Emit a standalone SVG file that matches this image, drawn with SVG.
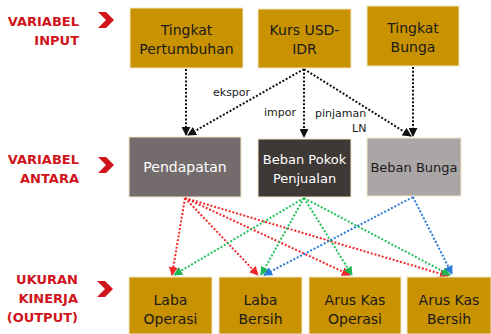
<svg xmlns="http://www.w3.org/2000/svg" width="491" height="334" viewBox="0 0 491 334">
<defs>
<style>
.lbl{font-family:"DejaVu Sans",sans-serif;font-weight:bold;font-size:13px;fill:#D0141C;text-anchor:end}
.box{stroke:#F2E6C8;stroke-width:1}
.gold{fill:#C99200}
.t{font-family:"DejaVu Sans",sans-serif;font-size:14px;text-anchor:middle;fill:#1a1a1a}
.tw{font-family:"DejaVu Sans",sans-serif;font-size:14px;text-anchor:middle;fill:#ffffff}
.el{font-family:"DejaVu Sans",sans-serif;font-size:11px;fill:#1a1a1a}
.c{fill:none;stroke-width:2;stroke-dasharray:2 1.8}
.k{stroke:#111}
.r{stroke:#F2262A}
.g{stroke:#22C05A}
.b{stroke:#2A7BD6}
.chev{fill:#D0141C}
</style>
<marker id="ak" viewBox="0 0 10 10" refX="9" refY="5" markerWidth="4.5" markerHeight="4.5" orient="auto" markerUnits="strokeWidth"><path d="M0,0L10,5L0,10z" fill="#111"/></marker>
<marker id="ar" viewBox="0 0 10 10" refX="9" refY="5" markerWidth="4.5" markerHeight="4.5" orient="auto" markerUnits="strokeWidth"><path d="M0,0L10,5L0,10z" fill="#F2262A"/></marker>
<marker id="ag" viewBox="0 0 10 10" refX="9" refY="5" markerWidth="4.5" markerHeight="4.5" orient="auto" markerUnits="strokeWidth"><path d="M0,0L10,5L0,10z" fill="#1FB552"/></marker>
<marker id="ab" viewBox="0 0 10 10" refX="9" refY="5" markerWidth="4.5" markerHeight="4.5" orient="auto" markerUnits="strokeWidth"><path d="M0,0L10,5L0,10z" fill="#2A7BD6"/></marker>
</defs>
<rect width="491" height="334" fill="#ffffff"/>

<g id="left-labels">
<text class="lbl" x="79" y="26">VARIABEL</text>
<text class="lbl" x="79" y="45">INPUT</text>
<text class="lbl" x="79" y="164">VARIABEL</text>
<text class="lbl" x="79" y="183">ANTARA</text>
<text class="lbl" x="78" y="284">UKURAN</text>
<text class="lbl" x="78" y="303">KINERJA</text>
<text class="lbl" x="78" y="322">(OUTPUT)</text>
<path class="chev" d="M98,12L106,12L114,20L106,28L98,28L106,20z"/>
<path class="chev" d="M98,157L106,157L114,165L106,173L98,173L106,165z"/>
<path class="chev" d="M97,281L105,281L113,289L105,297L97,297L105,289z"/>
</g>

<g id="connectors">
<line class="c k" x1="186" y1="69" x2="186" y2="135" marker-end="url(#ak)"/>
<line class="c k" x1="304" y1="69" x2="188" y2="135" marker-end="url(#ak)"/>
<line class="c k" x1="304" y1="69" x2="304" y2="137" marker-end="url(#ak)"/>
<line class="c k" x1="304" y1="69" x2="411" y2="136" marker-end="url(#ak)"/>
<line class="c k" x1="413" y1="67" x2="413" y2="136" marker-end="url(#ak)"/>

<line class="c r" x1="185" y1="198" x2="172" y2="275" marker-end="url(#ar)"/>
<line class="c r" x1="185" y1="198" x2="258" y2="275" marker-end="url(#ar)"/>
<line class="c r" x1="185" y1="198" x2="350" y2="275" marker-end="url(#ar)"/>
<line class="c r" x1="185" y1="198" x2="448" y2="276" marker-end="url(#ar)"/>

<line class="c g" x1="304" y1="198" x2="174" y2="275" marker-end="url(#ag)"/>
<line class="c g" x1="304" y1="198" x2="261" y2="275" marker-end="url(#ag)"/>
<line class="c g" x1="304" y1="198" x2="352" y2="275" marker-end="url(#ag)"/>
<line class="c g" x1="304" y1="198" x2="450" y2="275" marker-end="url(#ag)"/>

<line class="c b" x1="413" y1="197" x2="264" y2="275" marker-end="url(#ab)"/>
<line class="c b" x1="413" y1="197" x2="452" y2="274" marker-end="url(#ab)"/>

<text class="el" x="213" y="96">ekspor</text>
<text class="el" x="264" y="116">impor</text>
<text class="el" x="315" y="117">pinjaman</text>
<text class="el" x="352" y="132">LN</text>
</g>

<g id="tingkat-pertumbuhan">
<rect class="box gold" x="130" y="8" width="113" height="60"/>
<text class="t" x="186.5" y="35">Tingkat</text>
<text class="t" x="186.5" y="54">Pertumbuhan</text>
</g>
<g id="kurs">
<rect class="box gold" x="258" y="9" width="93" height="59"/>
<text class="t" x="304.5" y="35">Kurs USD-</text>
<text class="t" x="304.5" y="54">IDR</text>
</g>
<g id="tingkat-bunga">
<rect class="box gold" x="367" y="6" width="92" height="60"/>
<text class="t" x="413" y="33">Tingkat</text>
<text class="t" x="413" y="52">Bunga</text>
</g>

<g id="pendapatan">
<rect class="box" fill="#746C6C" x="129" y="137" width="112" height="60"/>
<text class="tw" x="185" y="172">Pendapatan</text>
</g>
<g id="beban-pokok">
<rect class="box" fill="#3E3937" x="258" y="139" width="93" height="58"/>
<text class="tw" x="304.5" y="164" style="font-size:13px">Beban Pokok</text>
<text class="tw" x="304.5" y="183" style="font-size:13px">Penjualan</text>
</g>
<g id="beban-bunga">
<rect class="box" fill="#ABA6A6" x="367" y="138" width="94" height="58"/>
<text class="t" x="414" y="172" style="font-size:13px">Beban Bunga</text>
</g>

<g id="laba-operasi">
<rect class="box gold" x="129" y="277" width="83" height="57"/>
<text class="t" x="170.5" y="305">Laba</text>
<text class="t" x="170.5" y="324">Operasi</text>
</g>
<g id="laba-bersih">
<rect class="box gold" x="219" y="277" width="83" height="57"/>
<text class="t" x="260.5" y="305">Laba</text>
<text class="t" x="260.5" y="324">Bersih</text>
</g>
<g id="arus-kas-operasi">
<rect class="box gold" x="309" y="277" width="92" height="57"/>
<text class="t" x="355" y="305">Arus Kas</text>
<text class="t" x="355" y="324">Operasi</text>
</g>
<g id="arus-kas-bersih">
<rect class="box gold" x="407" y="277" width="84" height="57"/>
<text class="t" x="449" y="305">Arus Kas</text>
<text class="t" x="449" y="324">Bersih</text>
</g>
</svg>
